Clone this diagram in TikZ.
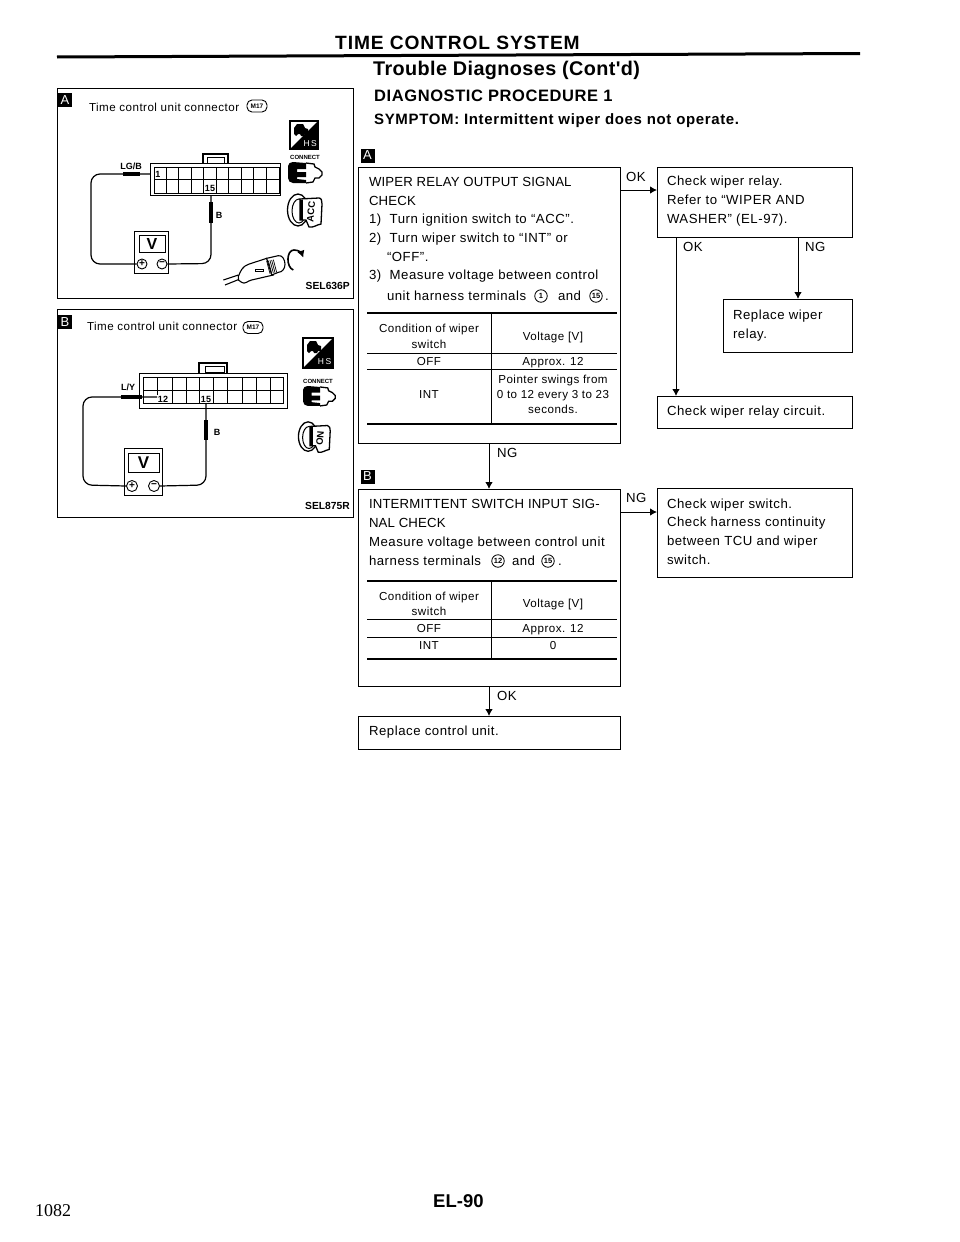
\documentclass[tikz,border=0pt]{standalone}
\usepackage{fontspec}
\setmainfont[LetterSpace=4]{Liberation Sans}
\newfontfamily\plainsans{Liberation Sans}
\newfontfamily\serifnum{Liberation Serif}
\usetikzlibrary{arrows.meta,calc}
\newcommand\bodyf{\fontsize{13.2}{16}\selectfont}
\newcommand\upf{\fontsize{13.2}{16}\selectfont\addfontfeature{LetterSpace=1.2}}
\newcommand\tabf{\fontsize{11.6}{13}\selectfont}
\newcommand\paneltf{\fontsize{11.6}{13}\selectfont}
\newcommand\plugicon[3]{%
 \begin{scope}[shift={(#1,#2)},scale=#3]
  \fill[black] (0,4) to[out=90,in=180] (5,0) -- (18,1) -- (18,7) -- (9,7) -- (9,10) -- (18,10) -- (18,15) -- (9,15) -- (9,17) -- (18,18) -- (18,21) -- (5,21) to[out=180,in=-90] (0,16) -- cycle;
  \draw[line width=1.3] (18,1) -- (26,2) -- (27,5) -- (31,7) -- (34,10) -- (34,13) -- (31,16) -- (27,16) -- (25,20) -- (18,21);
 \end{scope}}
\newcommand\keyicon[4]{%
 \begin{scope}[shift={(#1,#2)},scale=#3]
  \draw[line width=1.3] (11,18) ellipse [x radius=10.5,y radius=16];
  \draw[line width=1] (12,19) ellipse [x radius=7,y radius=12];
  \fill[white,draw=black,line width=1.3] (13,7) -- (32,6) to[out=0,in=90] (35,12) -- (34,32) to[out=-170,in=-10] (22,35) -- (19,28) -- (13,28) -- cycle;
  \fill[black] (13,8) rectangle (16,28);
  \node[font=\plainsans\bfseries\fontsize{9.5}{10}\selectfont,rotate=85,inner sep=0] (#4) at (24,20) {#4};
 \end{scope}}
\newcommand\hsicon[4]{%
 \begin{scope}[shift={(#1,#2)}]
  \fill[white,draw=black,line width=1.4] (0,0) rectangle (#3,#3);
  \fill[black] (0,#3) -- (#3,0) -- (#3,#3) -- cycle;
  \fill[black] (4,7) -- (7,3) -- (13,3) -- (15,7) -- (18,8) -- (18,13) -- (15,13) -- (14,15) -- (11,15) -- (10,13) -- (8,13) -- (6,15) -- (4,13) -- cycle;
  \node[white,font=\plainsans\fontsize{8.5}{10}\selectfont,inner sep=0] (#4) at (0.72*#3,0.8*#3) {H\,S};
 \end{scope}}
\begin{document}
\begin{tikzpicture}[x=1pt,y=-1pt,
  txt/.style={anchor=base west,inner sep=0pt,outer sep=0pt,font=\bodyf},
  ctxt/.style={anchor=base,inner sep=0pt,outer sep=0pt,font=\tabf,align=center},
  boxn/.style={draw=black,line width=1,anchor=north west,inner sep=0pt,outer sep=0pt},
  flow/.style={line width=1,-{Latex[length=7pt,width=7.5pt]}},
  thickr/.style={line width=1.8},
  thinr/.style={line width=0.9},
  badge/.style={fill=black,text=white,inner sep=0pt,minimum width=14,minimum height=14,font=\plainsans\fontsize{13}{13}\selectfont},
  cnum/.style={circle,draw=black,line width=0.8,inner sep=0pt,minimum size=12.5,font=\plainsans\bfseries\fontsize{7.5}{8}\selectfont},
  ring/.style={draw=black,line width=0.9,rounded corners=5,inner sep=0pt,font=\plainsans\bfseries\fontsize{6.5}{7}\selectfont},
  wire/.style={line width=1.2,rounded corners=9},
  probe/.style={line width=3.2},
  sm/.style={anchor=base,inner sep=0pt,font=\plainsans\bfseries\fontsize{9}{10}\selectfont},
  code/.style={anchor=base east,inner sep=0pt,font=\plainsans\bfseries\fontsize{10.3}{11}\selectfont},
  pm/.style={circle,draw,line width=0.9,inner sep=0pt,font=\plainsans\bfseries\fontsize{10}{10}\selectfont},
  conn/.style={draw=black,line width=1.1},
  cell/.style={line width=0.7}]
\useasboundingbox (0,0) rectangle (960,1242);
\fill[white] (0,0) rectangle (960,1242);

% headings
\node[anchor=base west,inner sep=0pt,font=\plainsans\bfseries\fontsize{19.2}{20}\selectfont\addfontfeature{LetterSpace=4.6}] (h1) at (335,49) {TIME CONTROL SYSTEM};
\draw[line width=3] (57,57) -- (860,53.5);
\node[anchor=base west,inner sep=0pt,font=\plainsans\bfseries\fontsize{19.8}{20}\selectfont\addfontfeature{LetterSpace=2}] (h2) at (373,75) {Trouble Diagnoses (Cont'd)};
\node[anchor=base west,inner sep=0pt,font=\plainsans\bfseries\fontsize{16.5}{18}\selectfont\addfontfeature{LetterSpace=3.5}] (h3) at (374,101) {DIAGNOSTIC PROCEDURE 1};
\node[anchor=base west,inner sep=0pt,font=\plainsans\bfseries\fontsize{15}{16}\selectfont\addfontfeature{LetterSpace=4.3}] (h4) at (374,124) {SYMPTOM: Intermittent wiper does not operate.};

% panel A
\node[boxn,minimum width=296,minimum height=210] (panelA) at (57,88) {};
\node[badge] (bdgPA) at (65,100) {A};
\node[txt,font=\paneltf] (ptA) at (89,111) {Time control unit connector};
\node[ring,minimum width=20,minimum height=12] (rngA) at (257,106) {M17};
\node[code] (seqA) at (350,289) {SEL636P};
% connector A
\node[boxn,minimum width=130,minimum height=32] (conA) at (150,163) {};
\draw[conn,fill=white] (203,163) -- (203,154) -- (228,154) -- (228,163);
\draw[cell] (207,163) rectangle (224,157);
\draw[cell] (154,167) rectangle (279,193);
\draw[line width=1] (154,179) -- (279,179);
\foreach \cx in {166,178,191,203,216,228,241,253,266}{\draw[cell] (\cx,167) -- (\cx,193);}
\node[sm,fill=white,inner sep=0.5pt] (p1A) at (158,177.5) {1};
\node[sm,fill=white,inner sep=0.5pt] (p15A) at (210,191.5) {15};
\node[sm] (lgb) at (131,169) {LG/B};
\node[sm] (bA) at (219,218) {B};
\coordinate (pinA1) at (150,174);
\coordinate (pinA15) at (211,195);
% voltmeter A
\node[boxn,minimum width=34,minimum height=42] (vmA) at (134,231) {};
\node[boxn,minimum width=26,minimum height=17,font=\plainsans\bfseries\fontsize{16}{16}\selectfont] (vmAd) at (139,235) {V};
\node[pm,minimum size=10] (vmAp) at (142,264) {+};
\node[pm,minimum size=10] (vmAm) at (162,264) {\char"2212};
\draw[wire] (pinA1) -- (91,174) -- (91,264) -- (vmAp.west);
\draw[wire] (pinA15) -- (211,263.5) -- (vmAm.east);
\draw[probe] (123,174) -- (140,174);
\draw[probe] (211,202) -- (211,223);
\hsicon{290}{121}{28}{HSA}
\node[anchor=base,inner sep=0pt,font=\plainsans\bfseries\fontsize{6}{7}\selectfont] (cntA) at (305,159) {CONNECT};
\plugicon{288}{162}{1}
\keyicon{287}{192}{1}{ACC}
% ignition switch drawing
\begin{scope}[shift={(210,235)},scale=0.3333]
 \draw[line width=1.1] (40,135) -- (85,120) (45,150) -- (90,132);
 \draw[line width=1.1,fill=white] (85,125) to[out=70,in=200] (115,88) -- (170,70) -- (190,120) -- (125,135) to[out=190,in=-40] (95,142) to[out=170,in=240] cycle;
 \draw[line width=0.9] (137,103) rectangle (160,110);
 \draw[line width=1.1,fill=white] (170,70) -- (205,62) to[out=10,in=90] (225,88) to[out=-90,in=0] (205,112) -- (185,120) -- cycle;
 \foreach \k in {0,5,...,20}{\draw[line width=0.7] (170+\k,78-\k*0.2) -- (180+\k,116-\k*0.2);}
 \draw[line width=1.6,-{Latex[length=7pt,width=7.5pt]}] (250,105) to[out=160,in=180] (252,45) to[out=0,in=110] (280,68);
\end{scope}

% panel B
\node[boxn,minimum width=296,minimum height=208] (panelB) at (57,309) {};
\node[badge] (bdgPB) at (65,322) {B};
\node[txt,font=\paneltf] (ptB) at (87,330) {Time control unit connector};
\node[ring,minimum width=20,minimum height=12] (rngB) at (253,327.5) {M17};
\node[code] (seqB) at (350,509) {SEL875R};
% connector B
\node[boxn,minimum width=148,minimum height=35] (conB) at (139,373) {};
\draw[conn,fill=white] (199,373) -- (199,363) -- (227,363) -- (227,373);
\draw[cell] (205,366) rectangle (224,372);
\draw[cell] (143,377) rectangle (283,403);
\draw[line width=1] (143,390) -- (283,390);
\foreach \cx in {157,172,186,199,213,227,242,256,270}{\draw[cell] (\cx,377) -- (\cx,403);}
\node[sm,fill=white,inner sep=0.5pt] (p12B) at (163,402) {12};
\node[sm,fill=white,inner sep=0.5pt] (p15B) at (206,402) {15};
\node[sm] (ly) at (128,390) {L/Y};
\node[sm] (bB) at (217,435) {B};
\coordinate (pinB12) at (157,397);
\coordinate (pinB15) at (206,404);
% voltmeter B
\node[boxn,minimum width=38,minimum height=47] (vmB) at (124,448) {};
\node[boxn,minimum width=31,minimum height=19,font=\plainsans\bfseries\fontsize{17}{17}\selectfont] (vmBd) at (128,453) {V};
\node[pm,minimum size=11] (vmBp) at (132,486) {+};
\node[pm,minimum size=11] (vmBm) at (154,486) {\char"2212};
\draw[wire] (pinB12) -- (83,397) -- (83,485) -- (vmBp.west);
\draw[wire] (pinB15) -- (206,485) -- (vmBm.east);
\draw[probe] (121,397) -- (142,397);
\draw[probe] (206,420) -- (206,440);
\hsicon{303}{338}{30}{HSB}
\node[anchor=base,inner sep=0pt,font=\plainsans\bfseries\fontsize{6}{7}\selectfont] (cntB) at (318,383) {CONNECT};
\plugicon{303}{386}{0.95}
\keyicon{298}{420}{0.92}{ON}

% flow: box A
\node[badge] (bdgA) at (367.5,155.5) {A};
\node[boxn,minimum width=262,minimum height=276] (boxA) at (358,167) {};
\node[txt,font=\upf] (a1) at (369,186) {WIPER RELAY OUTPUT SIGNAL};
\node[txt,font=\upf] (a2) at (369,205) {CHECK};
\node[txt] (a3) at (369,223) {1)\ \ Turn ignition switch to ``ACC''.};
\node[txt] (a4) at (369,242) {2)\ \ Turn wiper switch to ``INT'' or};
\node[txt] (a5) at (387,261) {``OFF''.};
\node[txt] (a6) at (369,279) {3)\ \ Measure voltage between control};
\node[txt] (a7) at (387,300) {unit harness terminals};
\node[cnum] (a8) at (541,296) {1};
\node[txt] (a9) at (558,300) {and};
\node[cnum] (a10) at (596,296) {15};
\node[txt] (a11) at (605,300) {.};
\draw[thickr] (367,313) -- (617,313) (367,424) -- (617,424);
\draw[thinr] (367,353) -- (617,353) (367,369) -- (617,369);
\draw[line width=1] (491,313) -- (491,424);
\node[ctxt] (at1) at (429,332) {Condition of wiper};
\node[ctxt] (at2) at (429,348) {switch};
\node[ctxt] (at3) at (553,340) {Voltage [V]};
\node[ctxt] (at4) at (429,365) {OFF};
\node[ctxt] (at5) at (553,365) {Approx. 12};
\node[ctxt] (at6) at (429,398) {INT};
\node[ctxt] (at7) at (553,383) {Pointer swings from};
\node[ctxt] (at8) at (553,398) {0 to 12 every 3 to 23};
\node[ctxt] (at9) at (553,413) {seconds.};

% flow: box B
\node[badge] (bdgB) at (367.5,476.5) {B};
\node[boxn,minimum width=262,minimum height=197] (boxB) at (358,489) {};
\node[txt,font=\upf] (b1) at (369,508) {INTERMITTENT SWITCH INPUT SIG-};
\node[txt,font=\upf] (b2) at (369,527) {NAL CHECK};
\node[txt] (b3) at (369,546) {Measure voltage between control unit};
\node[txt] (b4) at (369,565) {harness terminals};
\node[cnum] (b5) at (498,561) {12};
\node[txt] (b6) at (512,565) {and};
\node[cnum] (b7) at (548,561) {15};
\node[txt] (b8) at (558,565) {.};
\draw[thickr] (367,581) -- (617,581) (367,659) -- (617,659);
\draw[thinr] (367,619) -- (617,619) (367,637) -- (617,637);
\draw[line width=1] (491,581) -- (491,659);
\node[ctxt] (bt1) at (429,600) {Condition of wiper};
\node[ctxt] (bt2) at (429,615) {switch};
\node[ctxt] (bt3) at (553,607) {Voltage [V]};
\node[ctxt] (bt4) at (429,632) {OFF};
\node[ctxt] (bt5) at (553,632) {Approx. 12};
\node[ctxt] (bt6) at (429,649) {INT};
\node[ctxt] (bt7) at (553,649) {0};

% other boxes
\node[boxn,minimum width=262,minimum height=33] (rcu) at (358,716) {};
\node[txt] (rcut) at (369,735) {Replace control unit.};
\node[boxn,minimum width=195,minimum height=70] (chk) at (657,167) {};
\node[txt] (c1) at (667,185) {Check wiper relay.};
\node[txt] (c2) at (667,204) {Refer to ``WIPER AND};
\node[txt] (c3) at (667,223) {WASHER'' (EL-97).};
\node[boxn,minimum width=129,minimum height=53] (rwr) at (723,299) {};
\node[txt] (r1) at (733,319) {Replace wiper};
\node[txt] (r2) at (733,338) {relay.};
\node[boxn,minimum width=195,minimum height=32] (cir) at (657,396) {};
\node[txt] (cirt) at (667,415) {Check wiper relay circuit.};
\node[boxn,minimum width=195,minimum height=89] (sw) at (657,488) {};
\node[txt] (s1) at (667,508) {Check wiper switch.};
\node[txt] (s2) at (667,526) {Check harness continuity};
\node[txt] (s3) at (667,545) {between TCU and wiper};
\node[txt] (s4) at (667,564) {switch.};

% connectors
\coordinate (yA) at (0,190);
\coordinate (yB) at (0,512);
\coordinate (x1) at (676,0);
\coordinate (x2) at (798,0);
\draw[flow] (boxA.south) -- (boxB.north);
\draw[flow] (boxB.south) -- (rcu.north);
\draw[flow] (yA -| boxA.east) -- (yA -| chk.west);
\draw[flow] (yB -| boxB.east) -- (yB -| sw.west);
\draw[flow] (x1 |- chk.south) -- (x1 |- cir.north);
\draw[flow] (x2 |- chk.south) -- (x2 |- rwr.north);
\node[txt] (lNG1) at (497,457) {NG};
\node[txt] (lOK1) at (497,700) {OK};
\node[txt] (lOK2) at (626,181) {OK};
\node[txt] (lNG2) at (626,502) {NG};
\node[txt] (lOK3) at (683,251) {OK};
\node[txt] (lNG3) at (805,251) {NG};

% page furniture
\node[anchor=base west,inner sep=0pt,font=\plainsans\bfseries\fontsize{18.5}{19}\selectfont] (pg) at (433,1207) {EL-90};
\node[anchor=base west,inner sep=0pt,font=\serifnum\fontsize{18}{19}\selectfont] (pn) at (35,1216) {1082};
\end{tikzpicture}
\end{document}
